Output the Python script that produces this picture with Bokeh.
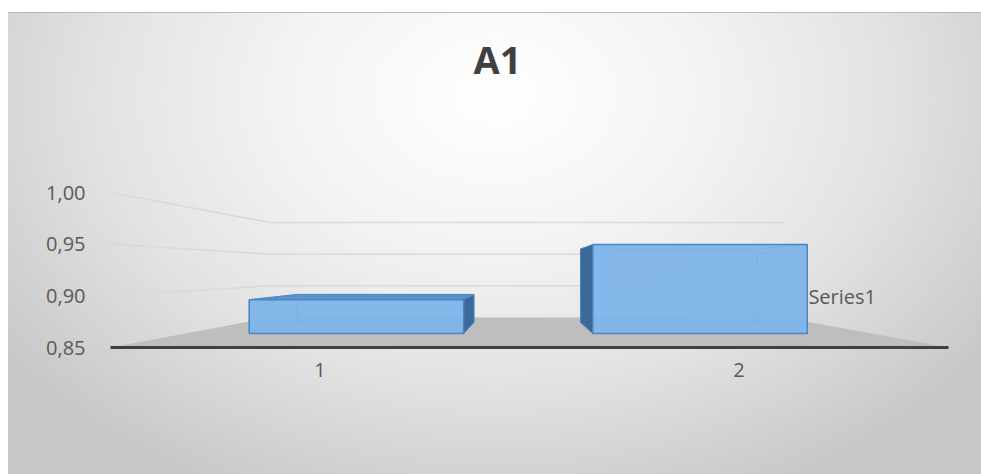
from bokeh.plotting import figure
from bokeh.models import FixedTicker, Range1d
from bokeh.core.properties import value
from bokeh.embed import file_html
from bokeh.resources import INLINE

# --- chart data -------------------------------------------------------------
title_text = "A1"
categories = ["1", "2"]
series_name = "Series1"
values = [0.89, 0.955]
y_ticks = [0.85, 0.90, 0.95, 1.00]
y_tick_labels = ["0,85", "0,90", "0,95", "1,00"]

# --- 3-D view settings (front plane is in data units) ------------------------
X_LO, X_HI = 0.5, 2.5          # category span of the floor
Y_FLOOR = y_ticks[0]           # floor sits at the lowest tick
VX, VY = 1.4833, 0.925         # vanishing point, data units
K = 0.634                      # perspective strength, back wall at depth 1
BAR_HALF = 0.312               # half bar width, category units
Z_FRONT, Z_BACK = 0.346, 0.756 # depth span of the bar row

FONT = "Open Sans"
TEXT_COLOR = "#595959"


def proj(x, y, z):
    """Project a point at depth z onto the front plane."""
    s = 1.0 / (1.0 + K * z)
    return VX + (x - VX) * s, VY + (y - VY) * s


def poly(points):
    pts = [proj(*p) for p in points]
    return [p[0] for p in pts], [p[1] for p in pts]


# frame geometry: 0.15 value units span 155 px of the 247 px frame
FRAME_H = 247
y_top = Y_FLOOR + FRAME_H * 0.15 / 155

p = figure(
    width=981, height=474,
    x_range=Range1d(X_LO, X_HI), y_range=Range1d(Y_FLOOR, y_top),
    output_backend="svg", toolbar_location=None,
    min_border_left=110, min_border_right=33,
    min_border_top=100, min_border_bottom=127,
    title=title_text,
)
p.background_fill_alpha = 0
p.border_fill_alpha = 0
p.outline_line_color = None
p.xgrid.visible = False
p.ygrid.visible = False
p.styles = {
    "background": (
        "linear-gradient(#b9b9b9, #b9b9b9) 8px 12px / 973px 1px no-repeat, "
        "radial-gradient(ellipse 62% 95% at 50% 18%, #ffffff 0%, #f3f3f3 35%, "
        "#e3e3e3 65%, #c8c8c8 100%) 8px 12px / 973px 462px no-repeat, #ffffff"
    )
}

# title
p.title.align = "left"
p.title.offset = 363
p.title.standoff = 31
p.title.text_font = FONT
p.title.text_font_size = "38px"
p.title.text_font_style = "bold"
p.title.text_color = "#404040"

# --- walls: perspective gridlines ---------------------------------------------
gx, gy = [], []
for v in y_ticks[1:]:
    xs, ys = poly([(X_LO, v, 0), (X_LO, v, 1), (X_HI, v, 1)])
    gx.append(xs)
    gy.append(ys)
p.multi_line(gx, gy, line_color="#d9d9d9", line_width=1.5)

# --- floor ----------------------------------------------------------------------
fx, fy = poly([(X_LO, Y_FLOOR, 0), (X_LO, Y_FLOOR, 1),
               (X_HI, Y_FLOOR, 1), (X_HI, Y_FLOOR, 0)])
p.patch(fx, fy, fill_color="#bebebe", line_color=None)

# --- bars -----------------------------------------------------------------------
EDGE = "#4a86c4"
hid_x, hid_y = [], []
vis_x, vis_y, vis_c = [], [], []
front_x, front_y = [], []
for i, v in enumerate(values):
    xc = i + 1
    x0, x1 = xc - BAR_HALF, xc + BAR_HALF
    y0, y1 = Y_FLOOR, v
    f, b = Z_FRONT, Z_BACK
    faces = {
        "back": [(x0, y0, b), (x1, y0, b), (x1, y1, b), (x0, y1, b)],
        "left": [(x0, y0, f), (x0, y0, b), (x0, y1, b), (x0, y1, f)],
        "right": [(x1, y0, f), (x1, y0, b), (x1, y1, b), (x1, y1, f)],
        "top": [(x0, y1, f), (x1, y1, f), (x1, y1, b), (x0, y1, b)],
        "front": [(x0, y0, f), (x1, y0, f), (x1, y1, f), (x0, y1, f)],
    }
    visible = {
        "left": x0 > VX,
        "right": x1 < VX,
        "top": y1 < VY,
    }
    for name in ["back", "left", "right", "top"]:
        xs, ys = poly(faces[name])
        if name != "back" and visible[name]:
            vis_x.append(xs)
            vis_y.append(ys)
            vis_c.append("#5a93cc" if name == "top" else "#3b6a9a")
        else:
            hid_x.append(xs)
            hid_y.append(ys)
    xs, ys = poly(faces["front"])
    front_x.append(xs)
    front_y.append(ys)

p.patches(hid_x, hid_y, fill_color="#6aa4dc", fill_alpha=0.3,
          line_color=EDGE, line_alpha=0.45, line_width=1)
p.patches(vis_x, vis_y, fill_color=vis_c, line_color=EDGE, line_width=1)
p.patches(front_x, front_y, fill_color="#7db4ea", fill_alpha=0.9,
          line_color=EDGE, line_width=1.5)

# --- series label on the depth axis -------------------------------------------
lx, ly = proj(X_HI, Y_FLOOR, (Z_FRONT + Z_BACK) / 2)
p.text([lx], [ly], text=[series_name], text_font=value(FONT),
       text_font_size="20px", text_color=TEXT_COLOR,
       text_align="center", text_baseline="middle", x_offset=4, y_offset=-31)

# --- axes -------------------------------------------------------------------------
p.yaxis.ticker = FixedTicker(ticks=y_ticks)
p.yaxis.major_label_overrides = dict(zip(y_ticks, y_tick_labels))
p.yaxis.axis_line_color = None
p.yaxis.major_tick_line_color = None
p.yaxis.minor_tick_line_color = None
p.yaxis.major_tick_out = 0
p.yaxis.major_label_standoff = 25
p.yaxis.major_label_text_font = FONT
p.yaxis.major_label_text_font_size = "20px"
p.yaxis.major_label_text_color = TEXT_COLOR

cat_pos = [i + 1 for i in range(len(categories))]
p.xaxis.ticker = FixedTicker(ticks=cat_pos)
p.xaxis.major_label_overrides = dict(zip(cat_pos, categories))
p.xaxis.axis_line_color = "#404040"
p.xaxis.axis_line_width = 3
p.xaxis.major_tick_line_color = None
p.xaxis.minor_tick_line_color = None
p.xaxis.major_tick_out = 0
p.xaxis.major_label_standoff = 15
p.xaxis.major_label_text_font = FONT
p.xaxis.major_label_text_font_size = "20px"
p.xaxis.major_label_text_color = TEXT_COLOR

open("out.html", "w").write(file_html(p, INLINE))
